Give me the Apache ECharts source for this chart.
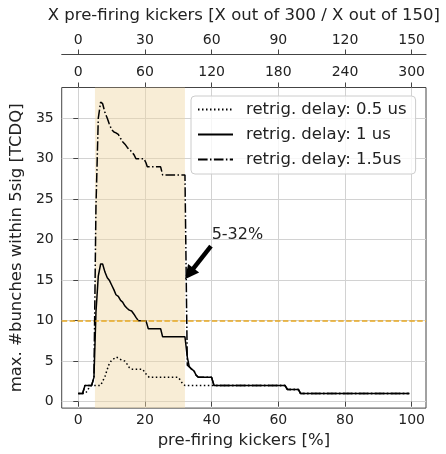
<!DOCTYPE html>
<html><head><meta charset="utf-8">
<script src="https://cdn.jsdelivr.net/npm/echarts@6/dist/echarts.min.js"></script>
<style>html,body{margin:0;padding:0;background:#fff}#c{width:446px;height:454px}</style>
</head><body><div id="c"></div>
<script>
// ---- data ----
const xTicksPct = [0, 20, 40, 60, 80, 100];
const ticksOf300 = [0, 60, 120, 180, 240, 300];
const ticksOf150 = [0, 30, 60, 90, 120, 150];
const yTicks = [0, 5, 10, 15, 20, 25, 30, 35];
const seriesNames = ['retrig. delay: 0.5 us', 'retrig. delay: 1 us', 'retrig. delay: 1.5us'];

const x05 = [0, 2.0, 2.7, 3.3, 4.0, 6.7, 7.3, 8.0, 8.7, 9.3, 10.0, 10.7, 11.3, 12.0, 12.7, 13.3, 14.0, 14.7, 15.3, 16.0, 19.3, 20.0, 20.7, 21.3, 30.0, 30.7, 31.3, 32.0, 62.0, 62.7, 66.0, 66.7, 99.3];
const y05 = [1, 1, 1.3, 1.8, 2, 2, 2.5, 3.1, 4, 4.7, 5.1, 5.3, 5.5, 5.4, 5.2, 5.1, 5, 4.6, 4.2, 4, 4, 3.6, 3.2, 3, 3, 2.6, 2.2, 2, 2, 1.5, 1.5, 1, 1];

const x10 = [0, 1.3, 2.0, 3.3, 4.0, 4.7, 5.3, 6.0, 6.7, 7.3, 8.0, 8.7, 9.3, 10.0, 10.7, 11.3, 12.0, 12.7, 13.3, 14.0, 14.7, 15.3, 16.0, 16.7, 17.3, 18.0, 20.3, 21.0, 24.7, 25.3, 32.0, 32.7, 33.3, 34.0, 34.7, 35.3, 36.0, 40.0, 40.7, 62.0, 62.7, 66.0, 66.7, 99.3];
const y10 = [1, 1, 2, 2, 2, 3, 11, 15.5, 17, 17, 16, 15.3, 15, 14.4, 13.8, 13.2, 13, 12.5, 12.3, 11.8, 11.5, 11.3, 11.2, 10.8, 10.4, 10, 10, 9, 9, 8, 8, 5.5, 4.3, 4, 3.8, 3.3, 3, 3, 2, 2, 1.5, 1.5, 1, 1];

const x15 = [0, 1.3, 2.0, 3.3, 4.0, 4.7, 5.3, 6.0, 6.7, 7.3, 8.0, 8.7, 9.3, 10.0, 10.7, 11.3, 12.0, 12.7, 13.3, 14.0, 14.7, 15.3, 16.0, 16.7, 17.3, 19.7, 20.3, 20.7, 24.7, 25.3, 32.0, 32.7, 33.3, 34.0, 34.7, 35.3, 36.0, 40.0, 40.7, 62.0, 62.7, 66.0, 66.7, 99.3];
const y15 = [1, 1, 2, 2, 2, 3, 24, 35, 37, 36.8, 35.7, 35, 34.3, 33.6, 33.3, 33.2, 33, 32.5, 32.1, 31.8, 31.4, 31.1, 30.9, 30.5, 30, 30, 29.5, 29, 29, 28, 28, 4.5, 4.3, 4, 3.8, 3.3, 3, 3, 2, 2, 1.5, 1.5, 1, 1];

const shadeRange = [5, 32];
const thresholdY = 10;
const annotText = '5-32%';
const annotTextAt = [40, 20];
const arrowFrom = [39.8, 19.2];
const arrowTo = [33.3, 15.8];

// ---- chart ----
const FONT = 'DejaVu Sans';
const TXT = '#222';
const AX = '#444';
const GRIDC = '#d2d2d2';
const xMin = -4.97, xMax = 104.3, yMin = -0.8, yMax = 38.8;
const pairs = (xs, ys) => xs.map((x, i) => [x, ys[i]]);

const chart = echarts.init(document.getElementById('c'), null, {renderer: 'canvas'});
const tickLabel = {fontFamily: FONT, fontSize: 14, color: TXT};
const bigLabel = {fontFamily: FONT, fontSize: 16.5, color: TXT};

chart.setOption({
  animation: false,
  grid: {left: 60, right: 20, top: 87.5, bottom: 41, show: true, borderColor: AX, borderWidth: 1, backgroundColor: 'transparent'},
  legend: {
    orient: 'vertical', left: 191, top: 96,
    padding: [5, 9, 6, 6], itemGap: 8, itemWidth: 35, itemHeight: 14,
    backgroundColor: 'rgba(255,255,255,0.8)', borderColor: '#cccccc', borderWidth: 1, borderRadius: 4,
    itemStyle: {color: 'rgba(0,0,0,0)', borderColor: 'rgba(0,0,0,0)', borderWidth: 0, opacity: 0},
    textStyle: {fontFamily: FONT, fontSize: 16.5, color: TXT, padding: [0, 0, 0, 8]},
    data: seriesNames
  },
  xAxis: [
    {
      type: 'value', position: 'bottom', min: xMin, max: xMax,
      name: 'pre-firing kickers [%]', nameLocation: 'middle', nameGap: 20,
      nameTextStyle: bigLabel,
      axisLine: {show: false},
      axisTick: {show: true, length: 5, lineStyle: {color: AX}, customValues: xTicksPct},
      axisLabel: Object.assign({margin: 5, customValues: xTicksPct}, tickLabel),
      splitLine: {show: true, lineStyle: {color: GRIDC, width: 1}}
    },
    {
      type: 'value', position: 'top', offset: 0, min: xMin, max: xMax,
      axisLine: {show: false},
      axisTick: {show: true, length: 5, lineStyle: {color: AX}, customValues: xTicksPct},
      axisLabel: Object.assign({margin: 8, customValues: xTicksPct,
        formatter: v => String(ticksOf300[xTicksPct.indexOf(Math.round(v))])}, tickLabel),
      splitLine: {show: false}
    },
    {
      type: 'value', position: 'top', offset: 33, min: xMin, max: xMax,
      name: 'X pre-firing kickers [X out of 300 / X out of 150]', nameLocation: 'middle', nameGap: 30,
      nameTextStyle: bigLabel,
      axisLine: {show: true, lineStyle: {color: AX, width: 1}},
      axisTick: {show: true, length: 5, lineStyle: {color: AX}, customValues: xTicksPct},
      axisLabel: Object.assign({margin: 7, customValues: xTicksPct,
        formatter: v => String(ticksOf150[xTicksPct.indexOf(Math.round(v))])}, tickLabel),
      splitLine: {show: false}
    }
  ],
  yAxis: {
    type: 'value', min: yMin, max: yMax,
    name: 'max. #bunches within 5sig [TCDQ]', nameLocation: 'middle', nameGap: 25,
    nameTextStyle: bigLabel,
    axisLine: {show: false},
    axisTick: {show: true, length: 5, lineStyle: {color: AX}, customValues: yTicks},
    axisLabel: Object.assign({margin: 8, customValues: yTicks}, tickLabel),
    splitLine: {show: true, lineStyle: {color: GRIDC, width: 1}}
  },
  series: [
    {
      name: seriesNames[0], type: 'line', xAxisIndex: 0, symbol: 'none', showSymbol: false,
      data: pairs(x05, y05), z: 3,
      lineStyle: {color: '#000', width: 1.5, type: [1.5, 2.5]},
      itemStyle: {color: '#000'},
      markArea: {
        silent: true,
        itemStyle: {color: 'rgba(240,215,165,0.45)'},
        data: [[{xAxis: shadeRange[0]}, {xAxis: shadeRange[1]}]]
      }
    },
    {
      name: seriesNames[1], type: 'line', xAxisIndex: 0, symbol: 'none', showSymbol: false,
      data: pairs(x10, y10), z: 4,
      lineStyle: {color: '#000', width: 1.5, type: 'solid'},
      itemStyle: {color: '#000'}
    },
    {
      name: seriesNames[2], type: 'line', xAxisIndex: 0, symbol: 'none', showSymbol: false,
      data: pairs(x15, y15), z: 5,
      lineStyle: {color: '#000', width: 1.5, type: [9.6, 2.4, 1.5, 2.4]},
      itemStyle: {color: '#000'},
      markLine: {
        silent: true, symbol: ['none', 'none'], label: {show: false},
        data: [
          [{coord: [xMin, thresholdY], symbol: 'none', lineStyle: {color: '#e8a820', width: 1.5, type: [5.5, 2.4]}},
           {coord: [xMax, thresholdY], symbol: 'none'}],
          [{coord: arrowFrom, symbol: 'none', lineStyle: {color: '#000', width: 4.5, type: 'solid'}},
           {coord: arrowTo, symbol: 'triangle', symbolSize: [14, 14]}]
        ]
      },
      markPoint: {
        silent: true,
        data: [{coord: annotTextAt, symbol: 'circle', symbolSize: 0,
          label: {show: true, formatter: annotText, position: [0, 3], align: 'left', verticalAlign: 'bottom',
            fontFamily: FONT, fontSize: 16, color: TXT}}]
      }
    }
  ]
});
</script></body></html>
